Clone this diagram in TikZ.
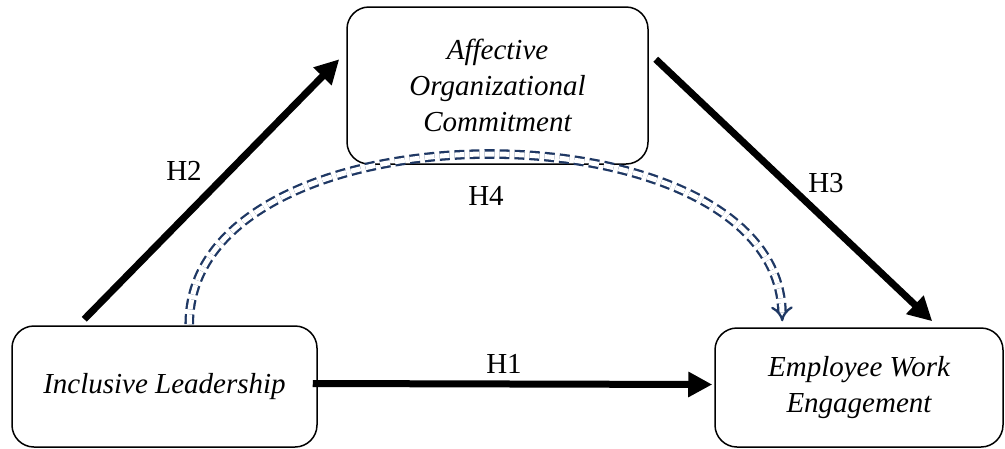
\documentclass[tikz,border=0pt]{standalone}
\usepackage{fontspec}
\setmainfont{Liberation Serif}
\usetikzlibrary{arrows.meta,calc}
\definecolor{navy}{HTML}{1F3864}
\begin{document}
\begin{tikzpicture}[x=1pt,y=-1pt,
  box/.style={draw=black,line width=1.5pt,rounded corners=22pt,align=center,inner sep=0pt,
     font=\fontsize{29}{36}\selectfont\itshape},
  thickarrow/.style={line width=7pt,-{Triangle[length=24pt,width=24pt]}},
  hlabel/.style={font=\fontsize{29}{34}\selectfont,inner sep=0pt},
  mediate/.style={draw=navy,line width=2.3pt,double=white,double distance=5pt,
     dash pattern=on 10pt off 5pt,-{Implies[length=9pt,width=22pt]}}]
\useasboundingbox (0,0) rectangle (1005,448);
\node[box,minimum width=301pt,minimum height=157pt] (T) at (497.5,85.5) {Affective\\Organizational\\Commitment};
\node[box,minimum width=305pt,minimum height=121pt] (L) at (164.5,386.5) {Inclusive Leadership};
\node[box,minimum width=288pt,minimum height=119pt] (R) at (859,387.5) {Employee Work\\Engagement};
\draw[thickarrow] ($(L.north west)+(73,-6)$) -- ($(T.north west)+(-7,53)$);
\draw[thickarrow] ($(T.north east)+(7,53)$) -- ($(R.north west)+(218,-6)$);
\draw[thickarrow] ($(L.east)+(-5,-3)$) -- ($(R.west)+(-2,-3)$);
\draw[mediate] ($(L.north west)+(178,-1)$) .. controls +(0,-225) and +(-5,-222) .. ($(R.north west)+(68,-6)$);
\node[hlabel] (h2) at (184,171) {H2};
\node[hlabel] (h3) at (826,183) {H3};
\node[hlabel] (h4) at (486,196) {H4};
\node[hlabel] (h1) at (504,364) {H1};
\end{tikzpicture}
\end{document}
